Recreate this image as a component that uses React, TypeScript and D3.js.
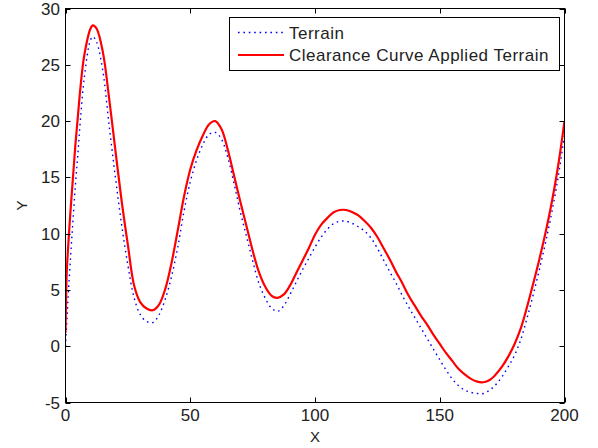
import { useEffect, useRef } from "react";
import * as d3 from "d3";

// sample positions along X (denser at the steep start)
const xs = [
  0, 0.5, 1, 2, 3, 4, 5, 6, 7.5, 10, 11, 12.5, 15, 17.5, 20, 22.5, 25, 27.5, 30,
  32.5, 35, 37.5, 40, 42.5, 45, 47.5, 50, 52.5, 55, 57.5, 60, 62.5, 65, 67.5, 70,
  72.5, 75, 77.5, 80, 82.5, 85, 87.5, 90, 92.5, 95, 97.5, 100, 102.5, 105, 107.5,
  110, 112.5, 115, 117.5, 120, 122.5, 125, 127.5, 130, 132.5, 135, 137.5, 140,
  142.5, 145, 147.5, 150, 152.5, 155, 157.5, 160, 162.5, 165, 167.5, 170, 172.5,
  175, 177.5, 180, 182.5, 185, 187.5, 190, 192.5, 195, 197.5, 200,
];

const terrain = [
  0, 2.1, 4.2, 7.8, 11.2, 14.4, 17.2, 20.2, 23.8, 27.2, 27.5, 27.0, 24.4, 19.6,
  15.0, 10.8, 7.2, 4.3, 2.8, 2.2, 2.1, 2.8, 4.2, 6.2, 8.8, 12.0, 14.6, 16.5, 17.9,
  18.8, 19.0, 18.4, 16.8, 14.5, 12.0, 9.8, 7.6, 5.6, 4.3, 3.4, 3.1, 3.6, 4.6, 5.7,
  6.8, 7.8, 8.8, 9.7, 10.4, 10.9, 11.1, 11.1, 10.9, 10.6, 10.2, 9.6, 8.7, 7.65,
  6.6, 5.6, 4.5, 3.5, 2.55, 1.6, 0.66, -0.28, -1.2, -2.1, -2.9, -3.5, -3.9, -4.1,
  -4.2, -4.2, -3.9, -3.4, -2.7, -1.8, -0.8, 0.6, 2.5, 4.6, 6.9, 9.3, 12.0, 15.1,
  18.8,
];

const clearance = [
  1.2, 6.6, 8.6, 12.0, 15.0, 18.0, 20.5, 23.0, 25.8, 28.2, 28.5, 28.2, 26.1, 22.0,
  17.4, 12.9, 9.0, 5.4, 3.9, 3.35, 3.2, 3.7, 5.1, 7.4, 10.3, 13.3, 15.7, 17.4, 18.7,
  19.7, 20.0, 19.3, 17.5, 15.2, 12.9, 10.7, 8.5, 6.6, 5.3, 4.5, 4.3, 4.6, 5.4, 6.5,
  7.6, 8.7, 9.9, 10.8, 11.4, 11.9, 12.1, 12.1, 11.9, 11.6, 11.1, 10.5, 9.7, 8.7,
  7.7, 6.6, 5.6, 4.5, 3.6, 2.7, 1.9, 1.0, 0.2, -0.6, -1.3, -2.0, -2.5, -2.9, -3.15,
  -3.2, -3.0, -2.5, -1.8, -0.9, 0.2, 1.6, 3.5, 5.6, 7.8, 10.2, 12.9, 16.1, 20.0,
];

const xTicks = [0, 50, 100, 150, 200];
const yTicks = [-5, 0, 5, 10, 15, 20, 25, 30];
const legendLabels = ["Terrain", "Clearance Curve Applied Terrain"];

const W = 598;
const H = 448;
const FONT = "'Liberation Sans', Arial, sans-serif";

const App = () => {
  const svgRef = useRef<SVGSVGElement>(null);

  useEffect(() => {
    document.body.style.margin = "0";
    const svg = d3.select(svgRef.current);
    svg.selectAll("*").remove();

    const left = 65.5, right = 564.5, top = 8.5, bottom = 402.5;
    const x = d3.scaleLinear().domain([0, 200]).range([left, right]);
    const y = d3.scaleLinear().domain([-5, 30]).range([bottom, top]);

    svg.append("rect").attr("width", W).attr("height", H).attr("fill", "#fff");

    svg.append("clipPath").attr("id", "plot")
      .append("rect")
      .attr("x", left).attr("y", top)
      .attr("width", right - left).attr("height", bottom - top);

    const line = (vals: number[]) =>
      d3.line<number>()
        .x((_, i) => x(xs[i]))
        .y((d) => y(d))
        .curve(d3.curveCatmullRom.alpha(0.5))(vals);

    const g = svg.append("g").attr("clip-path", "url(#plot)");
    g.append("path")
      .attr("d", line(terrain))
      .attr("fill", "none")
      .attr("stroke", "#0000ff")
      .attr("stroke-width", 1.4)
      .attr("stroke-dasharray", "1.6 3.8");
    g.append("path")
      .attr("d", line(clearance))
      .attr("fill", "none")
      .attr("stroke", "#ff0000")
      .attr("stroke-width", 2.2)
      .attr("stroke-linejoin", "round");

    // axes box with inward ticks on all sides
    const tl = 5;
    const axes = svg.append("g").attr("stroke", "#000").attr("stroke-width", 1);
    axes.append("rect")
      .attr("x", left).attr("y", top)
      .attr("width", right - left).attr("height", bottom - top)
      .attr("fill", "none");
    xTicks.forEach((t) => {
      const px = Math.round(x(t)) + 0.5;
      axes.append("line").attr("x1", px).attr("x2", px).attr("y1", bottom).attr("y2", bottom - tl);
      axes.append("line").attr("x1", px).attr("x2", px).attr("y1", top).attr("y2", top + tl);
    });
    yTicks.forEach((t) => {
      const py = Math.round(y(t)) + 0.5;
      axes.append("line").attr("x1", left).attr("x2", left + tl).attr("y1", py).attr("y2", py);
      axes.append("line").attr("x1", right).attr("x2", right - tl).attr("y1", py).attr("y2", py);
    });

    const labels = svg.append("g")
      .attr("font-family", FONT)
      .attr("font-size", 17)
      .attr("fill", "#222");
    xTicks.forEach((t) => {
      labels.append("text")
        .attr("x", x(t)).attr("y", 421)
        .attr("text-anchor", "middle")
        .text(String(t));
    });
    yTicks.forEach((t) => {
      labels.append("text")
        .attr("x", 60).attr("y", y(t))
        .attr("dy", "0.36em")
        .attr("text-anchor", "end")
        .text(String(t));
    });

    labels.append("text")
      .attr("x", (left + right) / 2).attr("y", 442)
      .attr("text-anchor", "middle")
      .attr("font-size", 15)
      .text("X");
    labels.append("text")
      .attr("transform", `translate(27,${(top + bottom) / 2}) rotate(-90)`)
      .attr("text-anchor", "middle")
      .attr("font-size", 15)
      .text("Y");

    // legend
    const lg = svg.append("g");
    lg.append("rect")
      .attr("x", 229.5).attr("y", 17.5)
      .attr("width", 330).attr("height", 53)
      .attr("fill", "#fff").attr("stroke", "#000");
    const rows = [
      { y: 32.5, stroke: "#0000ff", width: 1.4, dash: "1.6 3.8" },
      { y: 55, stroke: "#ff0000", width: 2.2, dash: null },
    ];
    rows.forEach((r, i) => {
      lg.append("line")
        .attr("x1", 238).attr("x2", 284)
        .attr("y1", r.y).attr("y2", r.y)
        .attr("stroke", r.stroke)
        .attr("stroke-width", r.width)
        .attr("stroke-dasharray", r.dash);
      lg.append("text")
        .attr("x", 289).attr("y", r.y)
        .attr("dy", "0.36em")
        .attr("font-family", FONT)
        .attr("font-size", 17)
        .attr("letter-spacing", 0.5)
        .attr("fill", "#222")
        .text(legendLabels[i]);
    });
  }, []);

  return <svg ref={svgRef} width={W} height={H} style={{ display: "block" }} />;
};

export default App;
